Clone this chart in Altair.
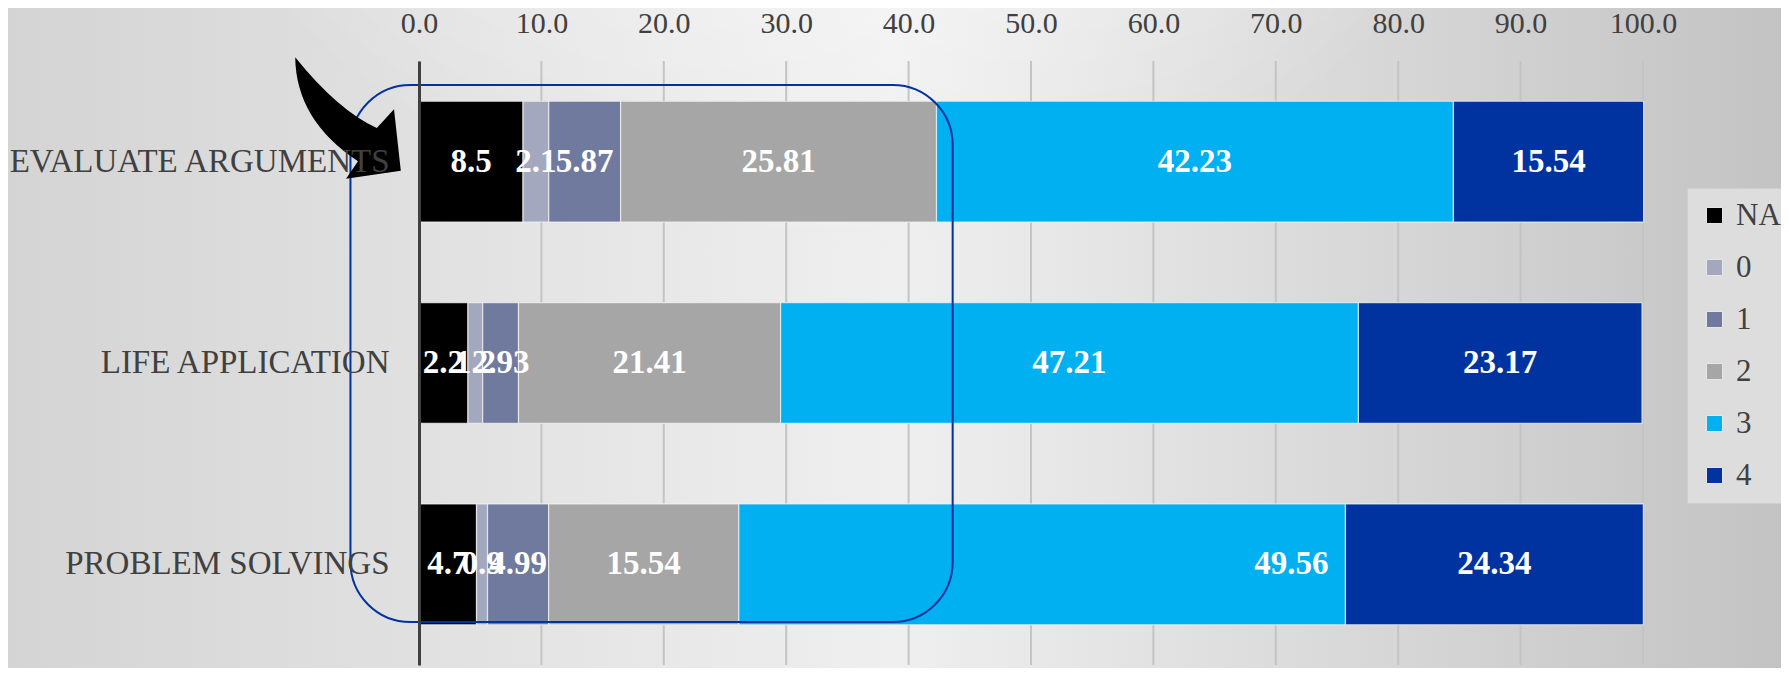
import altair as alt
import pandas as pd

categories = ["EVALUATE ARGUMENTS", "LIFE APPLICATION", "PROBLEM SOLVINGS"]
levels = ["NA", "0", "1", "2", "3", "4"]
level_colors = ["#000000", "#a3a8bf", "#6f7a9e", "#a6a6a6", "#00b0f0", "#0033a0"]

evaluate_values = [8.5, 2.1, 5.87, 25.81, 42.23, 15.54]
life_values = [4.0, 1.2, 2.93, 21.41, 47.21, 23.17]
problem_values = [4.7, 0.9, 4.99, 15.54, 49.56, 24.34]

evaluate_labels = ["8.5", "2.1", "5.87", "25.81", "42.23", "15.54"]
life_labels = ["2.2", "1.2", "2.93", "21.41", "47.21", "23.17"]
problem_labels = ["4.7", "0.9", "4.99", "15.54", "49.56", "24.34"]

x_ticks = [0, 10, 20, 30, 40, 50, 60, 70, 80, 90, 100]

# annotation extents (x in data units)
box_x_range = [-5.6, 43.6]
arrow_x = -5.8

FONT = "Liberation Serif"
W, H = 1224, 604
PAD = {"left": 411, "top": 53, "right": 138, "bottom": 3}

rows = []
for cat, vals, labs in zip(categories,
                           [evaluate_values, life_values, problem_values],
                           [evaluate_labels, life_labels, problem_labels]):
    for i, (lvl, v, lab) in enumerate(zip(levels, vals, labs)):
        rows.append(dict(category=cat, level=lvl, order=i, value=v, label=lab,
                         end_label=(cat == "PROBLEM SOLVINGS" and lvl == "3")))
df = pd.DataFrame(rows)

xscale = alt.Scale(domain=[0, 100], nice=False, zero=True)
yscale = alt.Scale(domain=categories, paddingInner=0.4, paddingOuter=0.2)

xaxis = alt.Axis(orient="top", values=x_ticks, format=".1f", title=None,
                 domain=False, ticks=False, tickSize=0, grid=False,
                 labelFont=FONT, labelFontSize=30, labelColor="#404040",
                 labelPadding=23, labelFlush=False, labelOverlap=False, zindex=1)
yaxis = alt.Axis(title=None, ticks=False, tickSize=0, grid=False,
                 domain=True, domainColor="#404040", domainWidth=3,
                 labelFont=FONT, labelFontSize=33, labelColor="#404040",
                 labelPadding=30, labelLimit=600, zindex=1)

one = pd.DataFrame({"a": [0]})

bg = alt.Chart(one).mark_rect(
    color=alt.LinearGradient(
        gradient="linear", x1=0, y1=0, x2=1, y2=0,
        stops=[alt.GradientStop(offset=0, color="#d4d4d4"),
               alt.GradientStop(offset=0.5, color="#efefef"),
               alt.GradientStop(offset=1, color="#c3c3c3")])
).encode(x=alt.value(-PAD["left"]), x2=alt.value(W + PAD["right"]),
         y=alt.value(-PAD["top"]), y2=alt.value(H + PAD["bottom"]))

bg2 = alt.Chart(one).mark_rect(
    color=alt.RadialGradient(
        gradient="radial", x1=0.47, y1=0.0, x2=0.47, y2=0.0, r1=0, r2=0.45,
        stops=[alt.GradientStop(offset=0, color="rgba(255,255,255,1)"),
               alt.GradientStop(offset=1, color="rgba(255,255,255,0)")])
).encode(x=alt.value(-PAD["left"]), x2=alt.value(W + PAD["right"]),
         y=alt.value(-PAD["top"]), y2=alt.value(H + PAD["bottom"]))

grid = alt.Chart(pd.DataFrame({"tick": x_ticks})).mark_rule(
    color="#c4c4c4", strokeWidth=2
).encode(x=alt.X("tick:Q", scale=xscale, axis=xaxis))

base = alt.Chart(df).transform_stack(
    stack="value", groupby=["category"],
    sort=[alt.SortField("order", order="ascending")], as_=["x0", "x1"]
).transform_calculate(mid="(datum.x0 + datum.x1) / 2")

bars = base.mark_bar(stroke="#f0f0f0", strokeWidth=1.2, strokeOpacity=0.8).encode(
    x=alt.X("x0:Q", scale=xscale, axis=xaxis),
    x2="x1:Q",
    y=alt.Y("category:N", sort=categories, scale=yscale, axis=yaxis),
    color=alt.Color("level:N", sort=levels,
                    scale=alt.Scale(domain=levels, range=level_colors),
                    legend=alt.Legend(title=None, orient="none", legendX=1268, legendY=127,
                                      symbolType="square", symbolSize=256,
                                      symbolStrokeColor="#e6e6e6", symbolStrokeWidth=1,
                                      labelFont=FONT, labelFontSize=31, labelColor="#404040",
                                      fillColor="#dddddd", strokeColor="#cfcfcf",
                                      padding=12, rowPadding=20, labelOffset=6)),
    order=alt.Order("order:Q"),
)

text_style = dict(font=FONT, fontSize=33, fontWeight="bold", color="white", baseline="middle")

labels = base.transform_filter("!datum.end_label").mark_text(align="center", **text_style).encode(
    x=alt.X("mid:Q", scale=xscale),
    y=alt.Y("category:N", sort=categories, scale=yscale),
    text="label:N",
)
end_labels = base.transform_filter("datum.end_label").mark_text(align="right", dx=-17, **text_style).encode(
    x=alt.X("x1:Q", scale=xscale),
    y=alt.Y("category:N", sort=categories, scale=yscale),
    text="label:N",
)

box = alt.Chart(pd.DataFrame({"b0": [box_x_range[0]], "b1": [box_x_range[1]]})).mark_rect(
    fillOpacity=0, stroke="#0033a0", strokeWidth=2, cornerRadius=60
).encode(x=alt.X("b0:Q", scale=xscale), x2="b1:Q", y=alt.value(24), y2=alt.value(561))

arrow_path = ("M -0.66 -0.76 Q -0.13 -0.1 0.36 0.125 L 0.575 -0.11 L 0.66 0.66 "
              "L -0.025 0.76 L 0.125 0.54 Q -0.65 0.03 -0.66 -0.76 Z")
arrow = alt.Chart(one).mark_point(
    shape=arrow_path, filled=True, fill="black", color="black", size=25600,
    strokeWidth=0, opacity=1
).encode(x=alt.datum(arrow_x, scale=xscale), y=alt.value(57))

chart = alt.layer(bg, bg2, grid, bars, labels, end_labels, box, arrow).properties(
    width=W, height=H, padding=PAD,
    autosize=alt.AutoSizeParams(type="none"),
    background="#e4e4e4",
).configure_view(strokeWidth=0)

chart.save("out.html", embed_options={"renderer": "svg", "actions": False})
